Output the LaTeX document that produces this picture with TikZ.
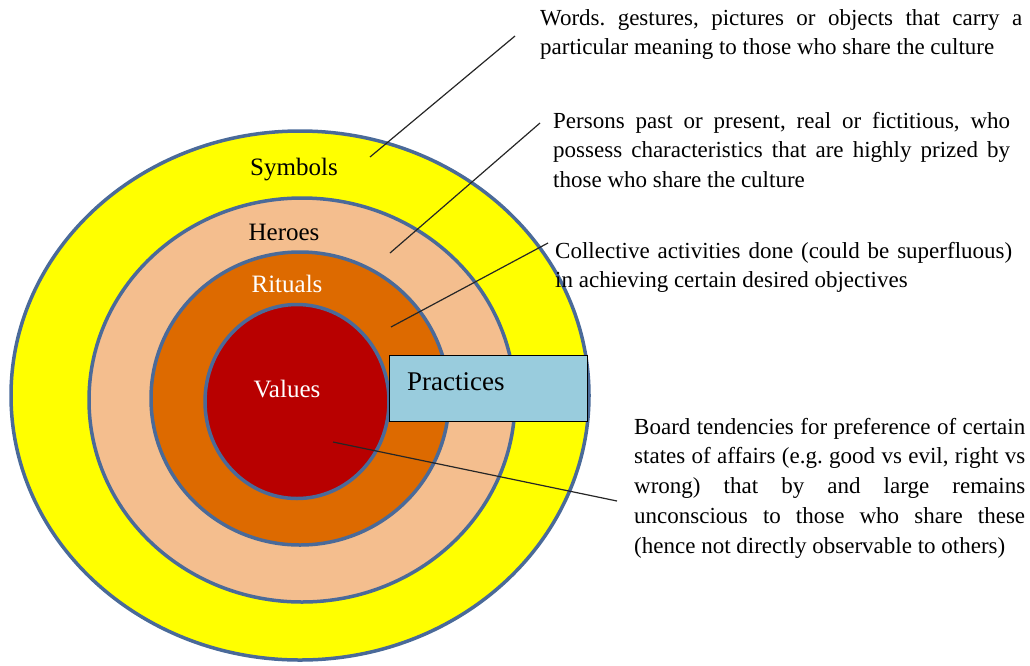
\documentclass[tikz,border=0pt]{standalone}
\usepackage{fontspec}
\setmainfont{Liberation Serif}
\frenchspacing
\definecolor{ringedge}{HTML}{4A6A99}
\definecolor{symbolsfill}{HTML}{FFFF00}
\definecolor{heroesfill}{HTML}{F4BE8E}
\definecolor{ritualsfill}{HTML}{DD6A00}
\definecolor{valuesfill}{HTML}{B80000}
\definecolor{practicefill}{HTML}{99CCDD}
% one justified line, and one line at natural width
\newcommand\jfull[1]{\hbox to \hsize{#1}}
\newcommand\jlast[1]{\hbox{#1}}
\begin{document}
\begin{tikzpicture}[x=1pt,y=-1pt,
  ring/.style={draw=ringedge, line width=3.5pt},
  leader/.style={draw=black!85, line width=1.2pt},
  ringlabel/.style={font=\fontsize{25}{30}\selectfont, inner sep=0pt, anchor=base},
  desc/.style={font=\fontsize{23}{29.8}\selectfont, inner sep=0pt, anchor=base west},
  practicebox/.style={draw=black, line width=1.4pt, fill=practicefill, inner sep=0pt,
    minimum width=198pt, minimum height=66pt, anchor=north west},
]
\useasboundingbox (0,0) rectangle (1030,665);

% the four layers of the onion
\filldraw[ring, fill=symbolsfill] (300,395.5) ellipse [x radius=289, y radius=264.5];
\filldraw[ring, fill=heroesfill]  (302,400)   ellipse [x radius=213, y radius=202];
\filldraw[ring, fill=ritualsfill] (300,398.5) ellipse [x radius=149, y radius=146.5];
\filldraw[ring, fill=valuesfill]  (297,401.5) ellipse [x radius=92,  y radius=97];

% layer names
\node[ringlabel] (symbols) at (294,175) {Symbols};
\node[ringlabel] (heroes)  at (284,240) {Heroes};
\node[ringlabel, text=white] (rituals) at (287,292) {Rituals};
\node[ringlabel, text=white] (values)  at (287,397) {Values};

% practices bar
\node[practicebox] (practices) at (389,355) {};
\node[font=\fontsize{27}{32}\selectfont, inner sep=0pt, anchor=base west] (practiceslabel) at (407,390) {Practices};

% descriptions
\node[desc] (symtext) at (540,25) {\vtop{\hsize=482pt
  \jfull{Words. gestures, pictures or objects that carry a}
  \jlast{particular meaning to those who share the culture}}};
\node[desc] (herotext) at (553,128) {\vtop{\hsize=457pt
  \jfull{Persons past or present, real or fictitious, who}
  \jfull{possess characteristics that are highly prized by}
  \jlast{those who share the culture}}};
\node[desc] (ritetext) at (555,258) {\vtop{\hsize=457pt
  \jfull{Collective activities done (could be superfluous)}
  \jlast{in achieving certain desired objectives}}};
\node[desc] (valtext) at (634,434) {\vtop{\hsize=391pt
  \jfull{Board tendencies for preference of certain}
  \jfull{states of affairs (e.g. good vs evil, right vs}
  \jfull{wrong) that by and large remains}
  \jfull{unconscious to those who share these}
  \jlast{(hence not directly observable to others)}}};

% leader lines from each layer to its description
\coordinate (symin)  at (370,157);
\coordinate (symout) at (515,36);
\coordinate (herin)  at (390,253);
\coordinate (herout) at (540,123);
\coordinate (ritin)  at (391,327);
\coordinate (ritout) at (548,243);
\coordinate (valin)  at (333,442);
\coordinate (valout) at (617,501);
\draw[leader] (symin) -- (symout);
\draw[leader] (herin) -- (herout);
\draw[leader] (ritin) -- (ritout);
\draw[leader] (valin) -- (valout);
\end{tikzpicture}
\end{document}
